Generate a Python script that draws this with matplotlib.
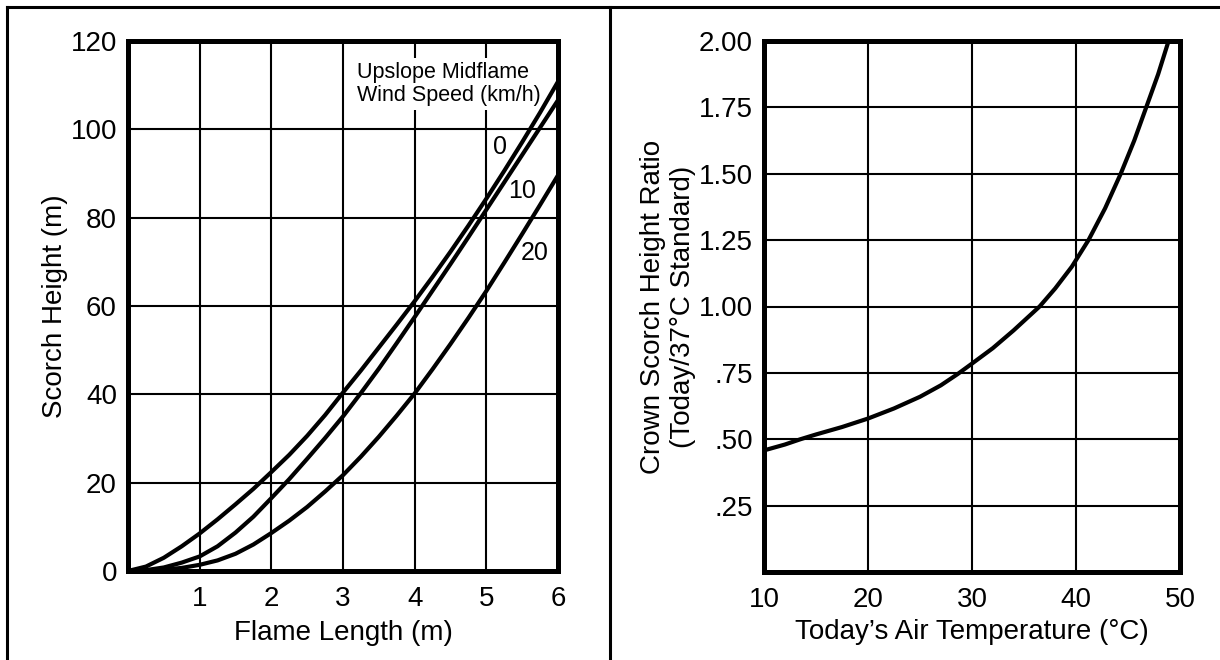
import matplotlib
matplotlib.use("Agg")
import matplotlib.pyplot as plt
from matplotlib.lines import Line2D

plt.rcParams['font.family'] = ['Liberation Sans', 'DejaVu Sans']

# ---- Left panel data: Scorch height vs flame length ----
flame_length = [0, 0.25, 0.5, 0.75, 1, 1.25, 1.5, 1.75, 2, 2.25, 2.5, 2.75, 3,
                3.25, 3.5, 3.75, 4, 4.25, 4.5, 4.75, 5, 5.25, 5.5, 5.75, 6]
scorch_wind0 = [0, 1.0, 3.0, 5.6, 8.5, 11.7, 15.1, 18.6, 22.4, 26.3, 30.6, 35.3, 40.4,
                45.4, 50.6, 55.8, 61.1, 66.6, 72.3, 78.2, 84.3, 90.6, 97.1, 103.8, 110.8]
scorch_wind10 = [0, 0.2, 0.8, 1.9, 3.3, 5.6, 8.7, 12.3, 16.5, 20.8, 25.4, 30.1, 35.0,
                 40.3, 45.8, 51.6, 57.5, 63.5, 69.5, 75.6, 81.8, 88.0, 94.2, 100.4, 106.6]
scorch_wind20 = [0, 0.1, 0.3, 0.7, 1.4, 2.4, 3.9, 6.0, 8.6, 11.4, 14.5, 18.0, 21.7,
                 25.9, 30.4, 35.2, 40.2, 45.7, 51.4, 57.3, 63.4, 69.8, 76.3, 82.9, 89.6]
wind_labels = ["0", "10", "20"]
left_xticks = [1, 2, 3, 4, 5, 6]
left_yticks = [0, 20, 40, 60, 80, 100, 120]

# ---- Right panel data: crown scorch height ratio vs air temperature ----
air_temp = [10, 12, 13.5, 15, 17.5, 20, 22.5, 25, 27, 28.6, 30, 32, 34, 36.5, 38,
            39.6, 41.2, 42.8, 44.3, 45.6, 46.75, 47.9, 48.9]
scorch_ratio = [0.458, 0.48, 0.50, 0.518, 0.546, 0.578, 0.616, 0.66, 0.703, 0.745, 0.785,
                0.843, 0.91, 1.0, 1.068, 1.15, 1.25, 1.37, 1.5, 1.625, 1.75, 1.875, 2.0]
right_xticks = [10, 20, 30, 40, 50]
right_yticks = [0.25, 0.5, 0.75, 1.0, 1.25, 1.5, 1.75, 2.0]
right_yticklabels = [".25", ".50", ".75", "1.00", "1.25", "1.50", "1.75", "2.00"]

W, H = 1220, 660
fig = plt.figure(figsize=(W / 100, H / 100), dpi=100)

def px_axes(x0, x1, y0, y1):
    return fig.add_axes([x0 / W, 1 - y1 / H, (x1 - x0) / W, (y1 - y0) / H])

TICK_FS = 20
LABEL_FS = 20
SPINE_LW = 3.6
GRID_LW = 1.5
CURVE_LW = 3.0

def style(ax):
    for s in ax.spines.values():
        s.set_linewidth(SPINE_LW)
        s.set_color('black')
    ax.tick_params(length=0, labelsize=TICK_FS)
    ax.tick_params(axis='y', pad=8)
    ax.tick_params(axis='x', pad=11)
    ax.grid(True, color='black', linewidth=GRID_LW)
    ax.set_axisbelow(True)

# Left panel
ax1 = px_axes(128, 558, 41, 571)
ax1.set_xlim(0, 6)
ax1.set_ylim(0, 120)
ax1.set_xticks(left_xticks)
ax1.set_yticks(left_yticks)
style(ax1)
for ys in (scorch_wind0, scorch_wind10, scorch_wind20):
    ax1.plot(flame_length, ys, color='black', linewidth=CURVE_LW, zorder=2,
             solid_joinstyle='round')
ax1.set_xlabel("Flame Length (m)", fontsize=LABEL_FS)
ax1.set_ylabel("Scorch Height (m)", fontsize=LABEL_FS)
ax1.xaxis.set_label_coords(0.5, (571 - 633) / 530)
ax1.xaxis.label.set_va('center')
ax1.yaxis.set_label_coords((55 - 128) / 430, 0.5)
ax1.yaxis.label.set_va('center')

ax1.text(3.2, 115.3, "Upslope Midflame\nWind Speed (km/h)", fontsize=15.5,
         ha='left', va='top', zorder=1.5, linespacing=1.15,
         bbox=dict(facecolor='white', edgecolor='none', pad=3))
label_pos = [(5.19, 96), (5.5, 86), (5.68, 72)]
for lab, (lx, ly) in zip(wind_labels, label_pos):
    ax1.text(lx, ly, lab, fontsize=18, ha='center', va='center', zorder=1.5,
             bbox=dict(facecolor='white', edgecolor='none', pad=1))

# Right panel
ax2 = px_axes(764, 1180, 41, 572)
ax2.set_xlim(10, 50)
ax2.set_ylim(0, 2.0)
ax2.set_xticks(right_xticks)
ax2.set_yticks(right_yticks)
ax2.set_yticklabels(right_yticklabels)
style(ax2)
ax2.plot(air_temp, scorch_ratio, color='black', linewidth=CURVE_LW, zorder=2,
         solid_joinstyle='round')
ax2.set_xlabel("Today\u2019s Air Temperature (\u00b0C)", fontsize=LABEL_FS)
ax2.set_ylabel("Crown Scorch Height Ratio\n(Today/37\u00b0C Standard)", fontsize=LABEL_FS,
               linespacing=1.15)
ax2.xaxis.set_label_coords(0.5, (572 - 632) / 531)
ax2.xaxis.label.set_va('center')
ax2.yaxis.set_label_coords((668 - 764) / 416, 0.5)
ax2.yaxis.label.set_va('center')

# Outer frame lines
lw_frame = 2.2
fig.add_artist(Line2D([7 / W, 1.0], [1 - 7 / H, 1 - 7 / H], color='black', linewidth=lw_frame))
fig.add_artist(Line2D([7 / W, 7 / W], [0, 1 - 7 / H], color='black', linewidth=lw_frame))
fig.add_artist(Line2D([610 / W, 610 / W], [0, 1 - 7 / H], color='black', linewidth=lw_frame))

fig.savefig("out.png", dpi=100, facecolor='white')
